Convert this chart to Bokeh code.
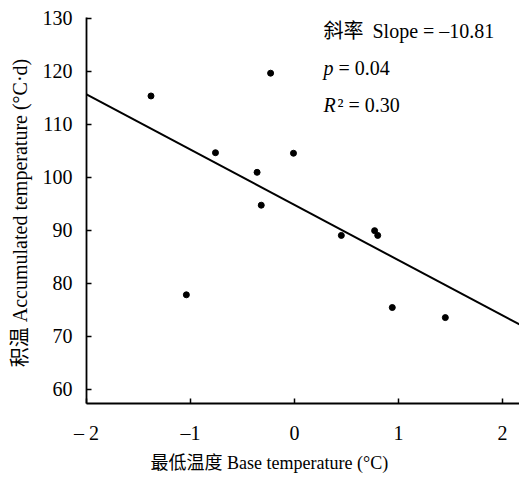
from bokeh.plotting import figure
from bokeh.models import FixedTicker, Label, Range1d, Title
from bokeh.embed import file_html
from bokeh.resources import INLINE

# data
base_temp = [-1.38, -0.23, -0.76, -0.01, -0.36, -0.32, 0.45, 0.77, 0.80, -1.04, 0.94, 1.45]
accum_temp = [115.3, 119.6, 104.6, 104.5, 100.9, 94.7, 89.0, 89.9, 89.0, 77.8, 75.4, 73.5]
fit_x = [-2.0, 2.163]
fit_y = [115.6, 72.2]
x_ticks = [-2, -1, 0, 1, 2]
x_tick_labels = {-2: "\u2013 2", -1: "\u20131", 0: "0", 1: "1", 2: "2"}
y_ticks = [60, 70, 80, 90, 100, 110, 120, 130]
stat_slope = "Slope = \u201310.81"
stat_p = "= 0.04"
stat_r2 = "\u00b2 = 0.30"
x_title = "最低温度 Base temperature (°C)"
y_title = "积温  Accumulated temperature (°C·d)"

FONT = "Liberation Serif, Noto Sans CJK SC"

p = figure(width=519, height=482, frame_width=433, frame_height=386,
           x_range=Range1d(-2.0, 2.163), y_range=Range1d(57.3, 130.1),
           output_backend="svg", toolbar_location=None,
           min_border_left=86, min_border_right=0, min_border_top=17, min_border_bottom=79)
p.outline_line_color = None
p.xgrid.visible = False
p.ygrid.visible = False
p.background_fill_color = "white"
p.border_fill_color = "white"

p.line(fit_x, fit_y, line_color="black", line_width=2)
p.scatter(base_temp, accum_temp, size=6, color="black")

for ax in (p.xaxis[0], p.yaxis[0]):
    ax.axis_line_width = 1.8
    ax.axis_line_color = "black"
    ax.major_tick_in = 5
    ax.major_tick_out = 0
    ax.major_tick_line_width = 1.5
    ax.major_tick_line_color = "black"
    ax.minor_tick_line_color = None
    ax.major_label_text_font = FONT
    ax.major_label_text_font_size = "20px"
    ax.major_label_text_color = "black"

p.xaxis.ticker = FixedTicker(ticks=x_ticks)
p.xaxis.major_label_overrides = x_tick_labels
p.xaxis.major_label_standoff = 18

p.yaxis.ticker = FixedTicker(ticks=y_ticks)
p.yaxis.major_label_standoff = 14
p.yaxis.axis_label = y_title
p.yaxis.axis_label_text_font = FONT
p.yaxis.axis_label_text_font_size = "20px"
p.yaxis.axis_label_text_font_style = "normal"
p.yaxis.axis_label_text_color = "black"
p.yaxis.axis_label_standoff = 9

p.add_layout(Title(text=x_title, align="left", offset=64, standoff=9,
                   text_font=FONT, text_font_size="18px", text_font_style="normal",
                   text_color="black"), "below")

def lab(x, y, t, size="20px", style="normal"):
    p.add_layout(Label(x=x, y=y, x_units="screen", y_units="screen", text=t,
                       text_font=FONT, text_font_size=size, text_font_style=style,
                       text_color="black", text_baseline="middle", text_align="left"))

# statistics
lab(237, 373, "斜率")
lab(286, 373, stat_slope)
lab(237, 336, "p", style="italic")
lab(252, 336, stat_p)
lab(237, 299, "R", style="italic")
lab(251, 299, stat_r2)

open("out.html", "w").write(file_html(p, INLINE))
